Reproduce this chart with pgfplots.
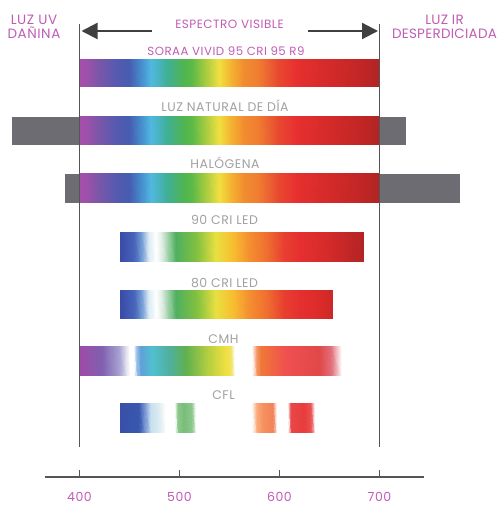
\documentclass[border=0pt]{standalone}
\usepackage{fontspec}
\setmainfont{Poppins}
\newfontfamily\lab{Poppins}[LetterSpace=4]
\newfontfamily\labn{Poppins}[LetterSpace=2]
\usepackage{pgfplots}
\pgfplotsset{compat=1.18}
\usetikzlibrary{arrows.meta}
\definecolor{purp}{RGB}{192,92,180}
\definecolor{lgray}{RGB}{160,160,160}
\definecolor{dgray}{RGB}{85,85,85}
\definecolor{bargray}{RGB}{108,108,114}
\begin{document}
\begin{tikzpicture}
\useasboundingbox (0,0) rectangle (498pt,505pt);
\begin{axis}[
  scale only axis, width=498pt, height=505pt,
  xmin=320.5, xmax=818.5, ymin=0, ymax=505,
  hide axis, clip=false,
  every node/.style={inner sep=0pt},
]
% gray (invisible light) bars
\addplot[fill=bargray, draw=none] coordinates {(332.7,360) (726.5,360) (726.5,388) (332.7,388)} -- cycle;
\addplot[fill=bargray, draw=none] coordinates {(385.5,302) (780,302) (780,331) (385.5,331)} -- cycle;
% SORAA
\addplot[surf, shader=interp, mesh/color input=explicit, mesh/rows=2] table[meta=c] {
x y c
400 418 rgb255=164,80,168
406 418 rgb255=160,80,170
420 418 rgb255=122,86,168
435 418 rgb255=90,90,175
450 418 rgb255=70,92,176
462 418 rgb255=70,140,205
472 418 rgb255=80,184,224
488 418 rgb255=64,176,150
505 418 rgb255=80,180,80
512 418 rgb255=88,184,72
527 418 rgb255=168,204,64
540 418 rgb255=240,224,64
553 418 rgb255=244,176,48
565 418 rgb255=242,140,48
578 418 rgb255=240,128,48
600 418 rgb255=232,72,48
617 418 rgb255=232,48,48
650 418 rgb255=212,42,42
680 418 rgb255=195,38,38
700 418 rgb255=178,36,36
400 445 rgb255=164,80,168
406 445 rgb255=160,80,170
420 445 rgb255=122,86,168
435 445 rgb255=90,90,175
450 445 rgb255=70,92,176
462 445 rgb255=70,140,205
472 445 rgb255=80,184,224
488 445 rgb255=64,176,150
505 445 rgb255=80,180,80
512 445 rgb255=88,184,72
527 445 rgb255=168,204,64
540 445 rgb255=240,224,64
553 445 rgb255=244,176,48
565 445 rgb255=242,140,48
578 445 rgb255=240,128,48
600 445 rgb255=232,72,48
617 445 rgb255=232,48,48
650 445 rgb255=212,42,42
680 445 rgb255=195,38,38
700 445 rgb255=178,36,36
};
% LUZ NATURAL
\addplot[surf, shader=interp, mesh/color input=explicit, mesh/rows=2] table[meta=c] {
x y c
400 360 rgb255=164,80,168
406 360 rgb255=160,80,170
420 360 rgb255=122,86,168
435 360 rgb255=90,90,175
450 360 rgb255=70,92,176
462 360 rgb255=70,140,205
472 360 rgb255=80,184,224
488 360 rgb255=64,176,150
505 360 rgb255=80,180,80
512 360 rgb255=88,184,72
527 360 rgb255=168,204,64
540 360 rgb255=240,224,64
553 360 rgb255=244,176,48
565 360 rgb255=242,140,48
578 360 rgb255=240,128,48
600 360 rgb255=232,72,48
617 360 rgb255=232,48,48
650 360 rgb255=212,42,42
680 360 rgb255=195,38,38
700 360 rgb255=178,36,36
400 388 rgb255=164,80,168
406 388 rgb255=160,80,170
420 388 rgb255=122,86,168
435 388 rgb255=90,90,175
450 388 rgb255=70,92,176
462 388 rgb255=70,140,205
472 388 rgb255=80,184,224
488 388 rgb255=64,176,150
505 388 rgb255=80,180,80
512 388 rgb255=88,184,72
527 388 rgb255=168,204,64
540 388 rgb255=240,224,64
553 388 rgb255=244,176,48
565 388 rgb255=242,140,48
578 388 rgb255=240,128,48
600 388 rgb255=232,72,48
617 388 rgb255=232,48,48
650 388 rgb255=212,42,42
680 388 rgb255=195,38,38
700 388 rgb255=178,36,36
};
% HALOGENA
\addplot[surf, shader=interp, mesh/color input=explicit, mesh/rows=2] table[meta=c] {
x y c
400 302 rgb255=164,80,168
406 302 rgb255=160,80,170
420 302 rgb255=122,86,168
435 302 rgb255=90,90,175
450 302 rgb255=70,92,176
462 302 rgb255=70,140,205
472 302 rgb255=80,184,224
488 302 rgb255=64,176,150
505 302 rgb255=80,180,80
512 302 rgb255=88,184,72
527 302 rgb255=168,204,64
540 302 rgb255=240,224,64
553 302 rgb255=244,176,48
565 302 rgb255=242,140,48
578 302 rgb255=240,128,48
600 302 rgb255=232,72,48
617 302 rgb255=232,48,48
650 302 rgb255=212,42,42
680 302 rgb255=195,38,38
700 302 rgb255=178,36,36
400 331 rgb255=164,80,168
406 331 rgb255=160,80,170
420 331 rgb255=122,86,168
435 331 rgb255=90,90,175
450 331 rgb255=70,92,176
462 331 rgb255=70,140,205
472 331 rgb255=80,184,224
488 331 rgb255=64,176,150
505 331 rgb255=80,180,80
512 331 rgb255=88,184,72
527 331 rgb255=168,204,64
540 331 rgb255=240,224,64
553 331 rgb255=244,176,48
565 331 rgb255=242,140,48
578 331 rgb255=240,128,48
600 331 rgb255=232,72,48
617 331 rgb255=232,48,48
650 331 rgb255=212,42,42
680 331 rgb255=195,38,38
700 331 rgb255=178,36,36
};
% 90 CRI LED
\addplot[surf, shader=interp, mesh/color input=explicit, mesh/rows=2] table[meta=c] {
x y c
441 243 rgb255=58,74,168
455 243 rgb255=70,100,185
462 243 rgb255=110,150,210
470 243 rgb255=220,236,244
477 243 rgb255=255,255,255
482 243 rgb255=230,240,235
490 243 rgb255=150,205,160
497 243 rgb255=80,176,96
517 243 rgb255=128,192,64
537 243 rgb255=232,224,64
553 243 rgb255=248,192,48
570 243 rgb255=244,144,48
587 243 rgb255=240,112,48
605 243 rgb255=232,64,48
620 243 rgb255=230,48,48
650 243 rgb255=212,42,42
684 243 rgb255=180,36,36
441 272 rgb255=58,74,168
455 272 rgb255=70,100,185
462 272 rgb255=110,150,210
470 272 rgb255=220,236,244
477 272 rgb255=255,255,255
482 272 rgb255=230,240,235
490 272 rgb255=150,205,160
497 272 rgb255=80,176,96
517 272 rgb255=128,192,64
537 272 rgb255=232,224,64
553 272 rgb255=248,192,48
570 272 rgb255=244,144,48
587 272 rgb255=240,112,48
605 272 rgb255=232,64,48
620 272 rgb255=230,48,48
650 272 rgb255=212,42,42
684 272 rgb255=180,36,36
};
% 80 CRI LED
\addplot[surf, shader=interp, mesh/color input=explicit, mesh/rows=2] table[meta=c] {
x y c
441 186 rgb255=58,74,168
455 186 rgb255=70,100,185
462 186 rgb255=110,150,210
470 186 rgb255=220,236,244
477 186 rgb255=255,255,255
482 186 rgb255=230,240,235
490 186 rgb255=150,205,160
497 186 rgb255=80,176,96
517 186 rgb255=128,192,64
537 186 rgb255=232,224,64
553 186 rgb255=248,192,48
570 186 rgb255=244,144,48
587 186 rgb255=240,112,48
605 186 rgb255=232,64,48
620 186 rgb255=230,48,48
640 186 rgb255=220,44,40
653 186 rgb255=205,40,40
441 214 rgb255=58,74,168
455 214 rgb255=70,100,185
462 214 rgb255=110,150,210
470 214 rgb255=220,236,244
477 214 rgb255=255,255,255
482 214 rgb255=230,240,235
490 214 rgb255=150,205,160
497 214 rgb255=80,176,96
517 214 rgb255=128,192,64
537 214 rgb255=232,224,64
553 214 rgb255=248,192,48
570 214 rgb255=244,144,48
587 214 rgb255=240,112,48
605 214 rgb255=232,64,48
620 214 rgb255=230,48,48
640 214 rgb255=220,44,40
653 214 rgb255=205,40,40
};
% CMH
\addplot[surf, shader=interp, mesh/color input=explicit, mesh/rows=2] table[meta=c] {
x y c
400 129 rgb255=160,74,168
423 129 rgb255=128,96,176
440 129 rgb255=165,160,208
448 129 rgb255=230,230,242
451 129 rgb255=255,255,255
455 129 rgb255=255,255,255
458 129 rgb255=150,190,230
462 129 rgb255=96,160,216
473 129 rgb255=80,192,208
490 129 rgb255=80,176,160
507 129 rgb255=96,176,80
530 129 rgb255=184,208,64
547 129 rgb255=240,224,64
552 129 rgb255=240,226,100
556 129 rgb255=255,255,255
573 129 rgb255=255,255,255
578 129 rgb255=244,150,100
582 129 rgb255=240,120,56
607 129 rgb255=240,80,80
640 129 rgb255=224,72,72
652 129 rgb255=225,110,120
663 129 rgb255=255,255,255
400 158 rgb255=160,74,168
423 158 rgb255=128,96,176
440 158 rgb255=165,160,208
448 158 rgb255=230,230,242
451 158 rgb255=255,255,255
455 158 rgb255=255,255,255
458 158 rgb255=150,190,230
462 158 rgb255=96,160,216
473 158 rgb255=80,192,208
490 158 rgb255=80,176,160
507 158 rgb255=96,176,80
530 158 rgb255=184,208,64
547 158 rgb255=240,224,64
552 158 rgb255=240,226,100
556 158 rgb255=255,255,255
573 158 rgb255=255,255,255
578 158 rgb255=244,150,100
582 158 rgb255=240,120,56
607 158 rgb255=240,80,80
640 158 rgb255=224,72,72
652 158 rgb255=225,110,120
663 158 rgb255=255,255,255
};
% CFL
\addplot[surf, shader=interp, mesh/color input=explicit, mesh/rows=2] table[meta=c] {
x y c
441 72 rgb255=56,80,168
460 72 rgb255=56,88,176
466 72 rgb255=120,150,210
472 72 rgb255=200,224,240
480 72 rgb255=220,236,240
487 72 rgb255=255,255,255
496 72 rgb255=255,255,255
499 72 rgb255=140,200,140
505 72 rgb255=120,190,120
513 72 rgb255=140,200,140
517 72 rgb255=255,255,255
573 72 rgb255=255,255,255
578 72 rgb255=250,170,120
584 72 rgb255=246,145,95
594 72 rgb255=242,130,90
598 72 rgb255=255,255,255
609 72 rgb255=255,255,255
612 72 rgb255=232,72,72
625 72 rgb255=232,60,60
632 72 rgb255=236,80,80
636 72 rgb255=255,255,255
441 101 rgb255=56,80,168
460 101 rgb255=56,88,176
466 101 rgb255=120,150,210
472 101 rgb255=200,224,240
480 101 rgb255=220,236,240
487 101 rgb255=255,255,255
496 101 rgb255=255,255,255
499 101 rgb255=140,200,140
505 101 rgb255=120,190,120
513 101 rgb255=140,200,140
517 101 rgb255=255,255,255
573 101 rgb255=255,255,255
578 101 rgb255=250,170,120
584 101 rgb255=246,145,95
594 101 rgb255=242,130,90
598 101 rgb255=255,255,255
609 101 rgb255=255,255,255
612 101 rgb255=232,72,72
625 101 rgb255=232,60,60
632 101 rgb255=236,80,80
636 101 rgb255=255,255,255
};
% visible range borders
\addplot[dgray, line width=1.4pt] coordinates {(400,58) (400,481)};
\addplot[dgray, line width=1.4pt] coordinates {(700,58) (700,481)};
% arrows
\addplot[black!75, line width=2.2pt, -{Triangle[length=16pt, width=16pt]}] coordinates {(472,474) (402,474)};
\addplot[black!75, line width=2.2pt, -{Triangle[length=16pt, width=16pt]}] coordinates {(628.5,474) (698.5,474)};
% bottom axis
\addplot[dgray, line width=1.2pt] coordinates {(365,28) (744,28)};
\addplot[dgray, line width=1.5pt] coordinates {(400,28) (400,35)};
\addplot[dgray, line width=1.5pt] coordinates {(500,28) (500,35)};
\addplot[dgray, line width=1.5pt] coordinates {(600,28) (600,35)};
\addplot[dgray, line width=1.5pt] coordinates {(700,28) (700,35)};
% tick labels
\node[anchor=base, text=purp, font=\lab\fontsize{12.5}{15}\selectfont] at (axis cs:400,4) {400};
\node[anchor=base, text=purp, font=\lab\fontsize{12.5}{15}\selectfont] at (axis cs:500,4) {500};
\node[anchor=base, text=purp, font=\lab\fontsize{12.5}{15}\selectfont] at (axis cs:600,4) {600};
\node[anchor=base, text=purp, font=\lab\fontsize{12.5}{15}\selectfont] at (axis cs:700,4) {700};
% header texts
\node[anchor=base, text=purp, font=\lab\fontsize{12}{14}\selectfont] at (axis cs:550,476) {ESPECTRO VISIBLE};
\node[anchor=base, text=purp, font=\lab\fontsize{11.8}{14}\selectfont] at (axis cs:546.5,449.7) {SORAA VIVID 95 CRI 95 R9};
\node[anchor=base, text=purp, font=\lab\fontsize{13.5}{14}\selectfont] at (axis cs:354.5,480) {LUZ UV};
\node[anchor=base, text=purp, font=\lab\fontsize{13.5}{14}\selectfont] at (axis cs:354.5,466) {DAÑINA};
\node[anchor=base, text=purp, font=\labn\fontsize{13.5}{14}\selectfont] at (axis cs:765,480) {LUZ IR};
\node[anchor=base, text=purp, font=\labn\fontsize{13.5}{14}\selectfont] at (axis cs:765,466) {DESPERDICIADA};
% bar labels
\node[anchor=base, text=lgray, font=\lab\fontsize{12.5}{14}\selectfont] at (axis cs:545.5,393.3) {LUZ NATURAL DE DÍA};
\node[anchor=base, text=lgray, font=\lab\fontsize{12.5}{14}\selectfont] at (axis cs:545.5,336.7) {HALÓGENA};
\node[anchor=base, text=lgray, font=\lab\fontsize{12.5}{14}\selectfont] at (axis cs:545,280) {90 CRI LED};
\node[anchor=base, text=lgray, font=\lab\fontsize{12.5}{14}\selectfont] at (axis cs:545,217.7) {80 CRI LED};
\node[anchor=base, text=lgray, font=\lab\fontsize{12.5}{14}\selectfont] at (axis cs:544,161.7) {CMH};
\node[anchor=base, text=lgray, font=\lab\fontsize{12.5}{14}\selectfont] at (axis cs:544,105.7) {CFL};
\end{axis}
\end{tikzpicture}
\end{document}
